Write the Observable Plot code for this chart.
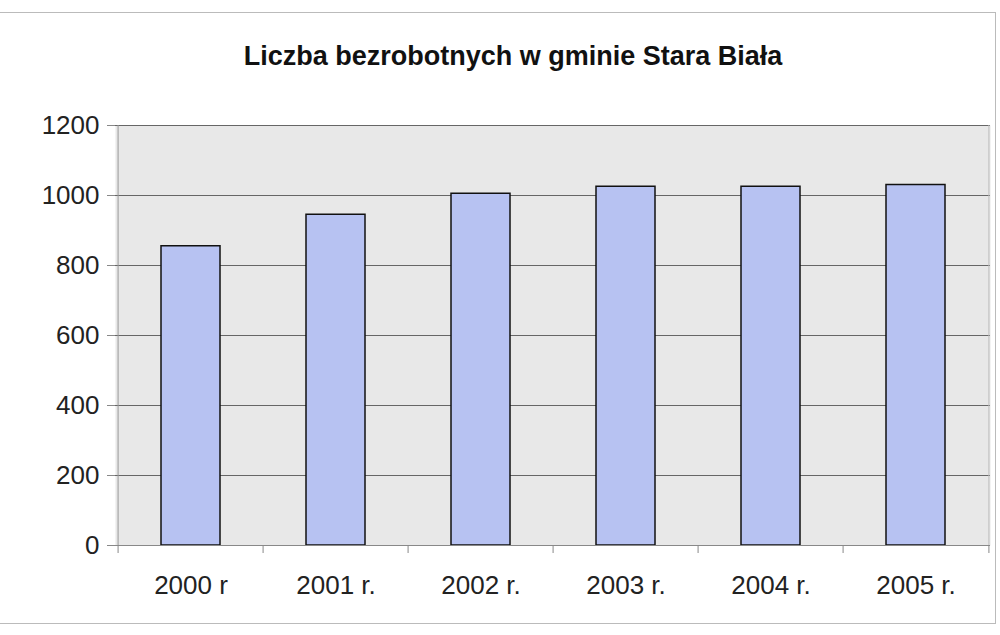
<!DOCTYPE html>
<html><head><meta charset="utf-8">
<script src="https://cdn.jsdelivr.net/npm/d3@7"></script>
<script src="https://cdn.jsdelivr.net/npm/@observablehq/plot@0.6"></script>
<style>
body{margin:0;background:#fff;font-family:"Liberation Sans",Arial,sans-serif;}
#wrap{position:relative;width:1000px;height:635px;}
#frame{position:absolute;left:-2px;top:12px;width:998px;height:612px;border:1px solid #bbb;box-sizing:border-box;}
#title{position:absolute;left:0;top:41px;width:1026px;text-align:center;font-weight:bold;font-size:27px;color:#111;}
#chart{position:absolute;left:0;top:100px;}
</style></head>
<body><div id="wrap"><div id="frame"></div><div id="title">Liczba bezrobotnych w gminie Stara Biała</div><div id="chart"></div></div>
<script>
const years = ["2000 r", "2001 r.", "2002 r.", "2003 r.", "2004 r.", "2005 r."];
const values = [855, 945, 1005, 1025, 1025, 1030];
const yTicks = [0, 200, 400, 600, 800, 1000, 1200];

const data = years.map((y, i) => ({year: y, value: values[i]}));
const W = 1000, H = 535, mL = 115, mR = 10;
const bw = (W - mL - mR) / years.length;
const chart = Plot.plot({
  width: W, height: H,
  marginLeft: mL, marginRight: mR, marginTop: 25, marginBottom: 90,
  style: {fontFamily: "'Liberation Sans', Arial, sans-serif", fontSize: "26px", color: "#222", background: "transparent"},
  x: {domain: years, padding: 0, label: null},
  y: {domain: [0, 1200], ticks: yTicks, label: null},
  marks: [
    Plot.frame({fill: "#e8e8e8", stroke: "none"}),
    Plot.ruleY(yTicks, {stroke: "#666", strokeWidth: 1}),
    Plot.barY(data, {x: "year", y: "value", fill: "#b7c2f2", stroke: "#111", strokeWidth: 1.5, insetLeft: 43, insetRight: 43}),
    Plot.ruleX(years, {x: d => d, y1: 0, y2: 1200, dx: -bw/2, stroke: "#999", strokeWidth: 1, filter: (d, i) => i === 0}),
    Plot.ruleX(years, {x: d => d, y1: 0, y2: 1200, dx: bw/2, stroke: "#bbb", strokeWidth: 1, filter: (d, i) => i === years.length - 1}),
    Plot.ruleX(years, {x: d => d, y1: 0, y2: 0, dx: -bw/2, stroke: "#888", insetBottom: -8}),
    Plot.ruleX(years, {x: d => d, y1: 0, y2: 0, dx: bw/2, stroke: "#888", insetBottom: -8, filter: (d, i) => i === years.length - 1}),
    Plot.ruleY([0], {stroke: "#888"}),
    Plot.axisY({ticks: yTicks, tickFormat: d => String(d), tickSize: 8, tickPadding: 8, stroke: "#888", fontSize: 26}),
    Plot.axisX({tickSize: 0, tickPadding: 30, fontSize: 26})
  ]
});
document.getElementById("chart").appendChild(chart);
</script></body></html>
